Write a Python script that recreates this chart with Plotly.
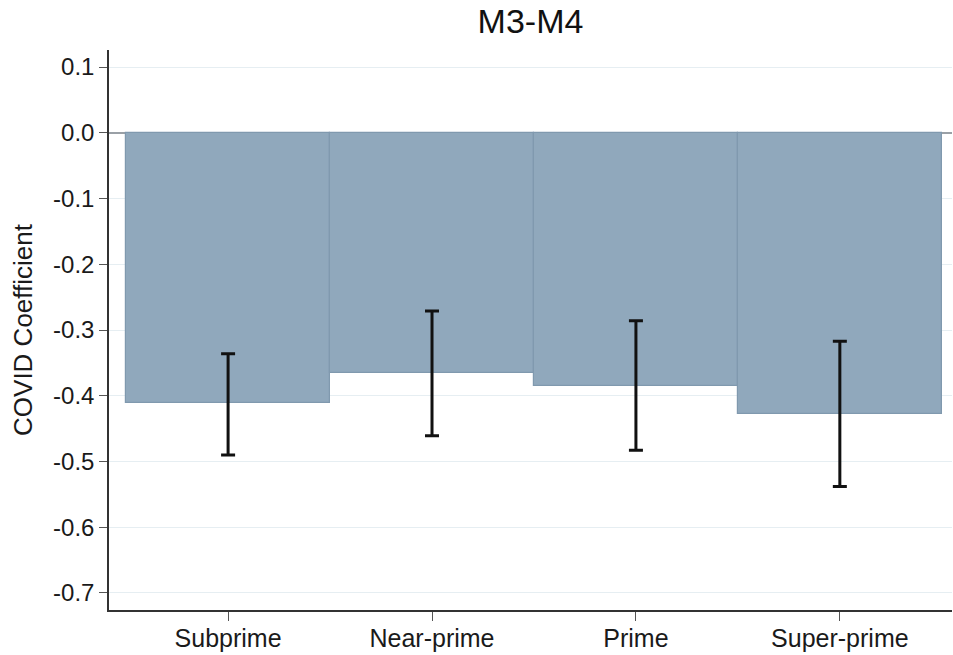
import plotly.graph_objects as go

categories = ["Subprime", "Near-prime", "Prime", "Super-prime"]
coef = [-0.411, -0.365, -0.385, -0.428]
ci_high = [-0.336, -0.271, -0.286, -0.317]
ci_low = [-0.490, -0.461, -0.483, -0.538]
y_ticks = [0.1, 0.0, -0.1, -0.2, -0.3, -0.4, -0.5, -0.6, -0.7]
y_tick_text = ["0.1", "0.0", "-0.1", "-0.2", "-0.3", "-0.4", "-0.5", "-0.6", "-0.7"]

err_plus = [h - c for h, c in zip(ci_high, coef)]
err_minus = [c - l for c, l in zip(coef, ci_low)]

font_family = "Liberation Sans, Arial, sans-serif"

fig = go.Figure()
fig.add_trace(go.Bar(
    x=list(range(len(categories))),
    y=coef,
    width=1.0,
    marker=dict(color="#90a8bc", line=dict(color="#8099ae", width=1.2)),
    error_y=dict(type="data", symmetric=False, array=err_plus, arrayminus=err_minus,
                 color="#111111", thickness=3, width=7),
    showlegend=False,
))

fig.update_layout(
    width=953, height=655,
    margin=dict(l=109, r=1, t=50, b=45),
    paper_bgcolor="white", plot_bgcolor="white",
    font=dict(family=font_family, color="#222222"),
    title=dict(text="M3-M4", x=0.5, xref="paper", xanchor="center",
               y=1 - 21 / 655, yref="container", yanchor="middle",
               font=dict(size=34, color="#111111", family=font_family)),
    bargap=0,
)

fig.update_xaxes(
    range=[-0.584, 3.55], automargin=False,
    tickmode="array", tickvals=list(range(len(categories))), ticktext=categories,
    ticks="outside", ticklen=9, tickcolor="#555555", tickwidth=1.2,
    ticklabelstandoff=-4,
    showline=True, linecolor="#333333", linewidth=1.5,
    showgrid=False, zeroline=False,
    tickfont=dict(size=25, color="#1a1a1a"),
)
fig.update_yaxes(
    range=[-0.726, 0.126], automargin=False,
    tickmode="array", tickvals=y_ticks, ticktext=y_tick_text,
    ticks="outside", ticklen=8, tickcolor="#555555", tickwidth=1.2,
    showline=True, linecolor="#333333", linewidth=1.5,
    showgrid=True, gridcolor="#e6eef2", gridwidth=1,
    zeroline=True, zerolinecolor="#9aa0a6", zerolinewidth=1.5,
    tickfont=dict(size=24, color="#1a1a1a"),
    title=dict(text="COVID Coefficient", font=dict(size=26, color="#1a1a1a"), standoff=13),
)

fig.write_html("out.html")
